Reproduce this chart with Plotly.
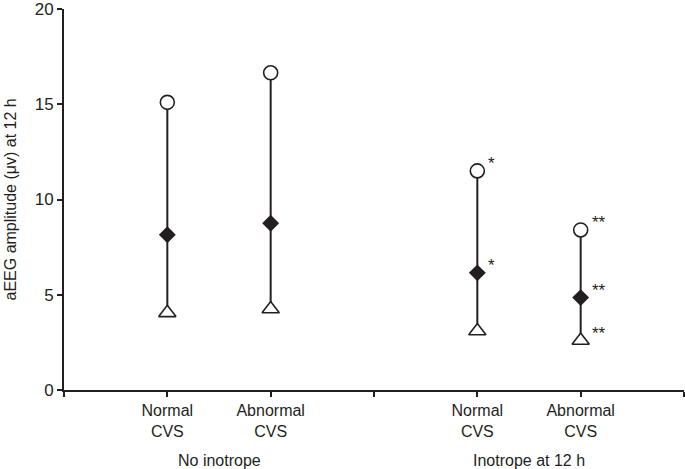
import plotly.graph_objects as go

# ---- data ----
categories = ["Normal<br>CVS", "Abnormal<br>CVS", "Normal<br>CVS", "Abnormal<br>CVS"]
x_pos = [1, 2, 4, 5]
groups = ["No inotrope", "Inotrope at 12 h"]
group_centers = [1.5, 4.5]
max_vals = [15.1, 16.65, 11.5, 8.4]
median_vals = [8.15, 8.75, 6.15, 4.85]
min_vals = [4.05, 4.25, 3.1, 2.6]
max_sig = ["", "", "*", "**"]
median_sig = ["", "", "*", "**"]
min_sig = ["", "", "", "**"]
y_ticks = [0, 5, 10, 15, 20]

INK = "#231f20"
FONT = "Liberation Sans, Arial, sans-serif"

fig = go.Figure()

# vertical range lines
for x, lo, hi in zip(x_pos, min_vals, max_vals):
    fig.add_trace(go.Scatter(x=[x, x], y=[lo, hi], mode="lines",
                             line=dict(color=INK, width=2), showlegend=False,
                             hoverinfo="skip"))

fig.add_trace(go.Scatter(x=x_pos, y=max_vals, mode="markers", name="max",
                         marker=dict(symbol="circle", size=14, color="white",
                                     line=dict(color=INK, width=1.6)),
                         showlegend=False))
fig.add_trace(go.Scatter(x=x_pos, y=median_vals, mode="markers", name="median",
                         marker=dict(symbol="diamond", size=13, color=INK,
                                     line=dict(color=INK, width=0)),
                         showlegend=False))
fig.add_trace(go.Scatter(x=x_pos, y=min_vals, mode="markers", name="min",
                         marker=dict(symbol="triangle-up", size=15, color="white",
                                     line=dict(color=INK, width=1.6)),
                         showlegend=False))

annotations = []
for sigs, vals in ((max_sig, max_vals), (median_sig, median_vals), (min_sig, min_vals)):
    for x, v, s in zip(x_pos, vals, sigs):
        if s:
            annotations.append(dict(x=x, y=v, xref="x", yref="y", text=s,
                                    showarrow=False, xanchor="left",
                                    xshift=9, yshift=7,
                                    font=dict(family=FONT, size=17, color=INK)))
for g, c in zip(groups, group_centers):
    annotations.append(dict(x=c, y=0, xref="x", yref="paper", text=g,
                            showarrow=False, yanchor="middle", yshift=-70,
                            font=dict(family=FONT, size=16, color=INK)))
annotations.append(dict(x=0, y=0.5, xref="paper", yref="paper",
                        text="aEEG amplitude (μv) at 12 h", textangle=-90,
                        showarrow=False, xanchor="center", yanchor="middle",
                        xshift=-54,
                        font=dict(family=FONT, size=16, color=INK)))

fig.update_layout(
    width=685, height=469,
    margin=dict(l=64, r=1, t=9, b=79),
    paper_bgcolor="white", plot_bgcolor="white",
    font=dict(family=FONT, size=14, color=INK),
    annotations=annotations,
    xaxis=dict(range=[0, 6], tickvals=[0] + x_pos[:2] + [3] + x_pos[2:] + [6],
               ticktext=[""] + categories[:2] + [""] + categories[2:] + [""],
               showline=True, linecolor=INK, linewidth=2,
               ticks="outside", ticklen=5, tickwidth=2, tickcolor=INK,
               showgrid=False, zeroline=False, automargin=False,
               ticklabeloverflow="allow",
               tickfont=dict(family=FONT, size=16, color=INK)),
    yaxis=dict(range=[0, 20], tickvals=y_ticks,
               showline=True, linecolor=INK, linewidth=2,
               ticks="outside", ticklen=5, tickwidth=2, tickcolor=INK,
               showgrid=False, zeroline=False, automargin=False,
               ticklabeloverflow="allow",
               tickfont=dict(family=FONT, size=17, color=INK)),
)

fig.write_html("out.html", config={"displayModeBar": False},
               post_script="document.body.style.margin='0';document.body.style.overflow='hidden';")
